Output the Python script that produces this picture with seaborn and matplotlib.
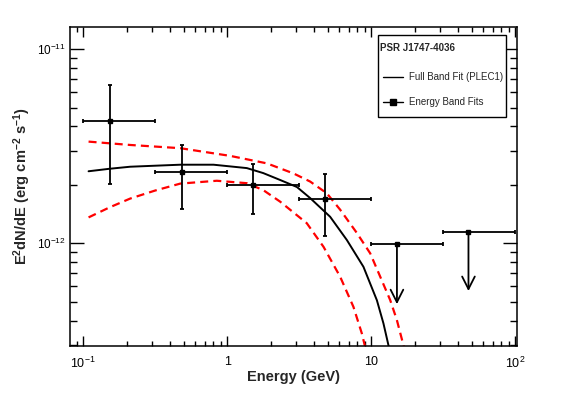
import numpy as np
import pandas as pd
import matplotlib
matplotlib.use("Agg")
import matplotlib.pyplot as plt
from matplotlib.lines import Line2D
from matplotlib.patches import Rectangle
from matplotlib.ticker import FixedLocator, FixedFormatter, NullFormatter
import seaborn as sns

# ---------------- data ----------------
# Full band PLEC1 fit (solid) and its 1-sigma envelope (red dashed)
fit_E = [0.109, 0.152, 0.212, 0.316, 0.472, 0.804, 1.37, 1.78, 2.33, 3.05, 3.77, 5.19, 6.78,
         8.84, 10.96, 12.17, 13.18, 14.0]
fit_F = [2.35e-12, 2.42e-12, 2.48e-12, 2.51e-12, 2.54e-12, 2.54e-12, 2.44e-12, 2.30e-12,
         2.12e-12, 1.95e-12, 1.71e-12, 1.37e-12, 1.04e-12, 7.57e-13, 5.09e-13, 3.87e-13,
         2.99e-13, 2.59e-13]

up_E = [0.109, 0.212, 0.472, 1.05, 1.89, 2.89, 3.77, 4.92, 6.09, 7.96, 9.85, 11.56, 13.56,
        15.08, 16.75, 17.5]
up_F = [3.34e-12, 3.21e-12, 3.09e-12, 2.82e-12, 2.58e-12, 2.29e-12, 2.08e-12, 1.81e-12,
        1.49e-12, 1.13e-12, 8.88e-13, 6.73e-13, 5.10e-13, 4.03e-13, 2.99e-13, 2.65e-13]

lo_E = [0.109, 0.152, 0.212, 0.316, 0.472, 0.847, 1.37, 1.78, 2.33, 3.57, 4.67, 6.09, 7.53,
        8.61, 9.08, 9.38]
lo_F = [1.36e-12, 1.53e-12, 1.70e-12, 1.87e-12, 2.03e-12, 2.10e-12, 2.04e-12, 1.88e-12,
        1.64e-12, 1.27e-12, 9.59e-13, 6.73e-13, 4.71e-13, 3.44e-13, 2.93e-13, 2.65e-13]

# Energy band fits (detections)
band_E = [0.153, 0.484, 1.51, 4.8]
band_F = [4.28e-12, 2.34e-12, 1.99e-12, 1.69e-12]
band_E_lo = [0.1, 0.316, 1.0, 3.16]
band_E_hi = [0.316, 1.0, 3.16, 10.0]
band_F_lo = [2.03e-12, 1.51e-12, 1.42e-12, 1.09e-12]
band_F_hi = [6.54e-12, 3.19e-12, 2.55e-12, 2.28e-12]

# Energy band upper limits
ul_E = [15.1, 47.4]
ul_F = [9.88e-13, 1.14e-12]
ul_E_lo = [10.0, 31.6]
ul_E_hi = [31.6, 100.0]
ul_F_arrow = [4.86e-13, 5.68e-13]

x_ticks = [0.1, 1, 10, 100]
x_tick_labels = ["10$^{-1}$", "1", "10", "10$^{2}$"]
y_ticks = [1e-12, 1e-11]
y_tick_labels = ["10$^{-12}$", "10$^{-11}$"]

legend_title = "PSR J1747-4036"
label_fit = "Full Band Fit (PLEC1)"
label_band = "Energy Band Fits"

# ---------------- style ----------------
sns.set_theme(style="ticks")
plt.rcParams["font.family"] = ["Liberation Sans", "DejaVu Sans"]
plt.rcParams["mathtext.default"] = "regular"

W, H = 581, 394
fig = plt.figure(figsize=(W / 100, H / 100), dpi=100)
ax = fig.add_axes([70 / W, 1 - 346 / H, (517 - 70) / W, (346 - 27) / H])
ax.set_xscale("log")
ax.set_yscale("log")

fit_df = pd.DataFrame({"E": fit_E, "F": fit_F})
up_df = pd.DataFrame({"E": up_E, "F": up_F})
lo_df = pd.DataFrame({"E": lo_E, "F": lo_F})

sns.lineplot(data=up_df, x="E", y="F", ax=ax, color="#ff0000", lw=1.6,
             sort=False, estimator=None)
sns.lineplot(data=lo_df, x="E", y="F", ax=ax, color="#ff0000", lw=1.6,
             sort=False, estimator=None)
for ln in ax.lines:
    ln.set_dashes((3.6, 2.3))
sns.lineplot(data=fit_df, x="E", y="F", ax=ax, color="black", lw=1.4,
             sort=False, estimator=None)

# detections
bE = np.array(band_E); bF = np.array(band_F)
xerr = [bE - np.array(band_E_lo), np.array(band_E_hi) - bE]
yerr = [bF - np.array(band_F_lo), np.array(band_F_hi) - bF]
ax.errorbar(bE, bF, xerr=xerr, yerr=yerr, fmt="s", ms=3.2, color="black",
            ecolor="black", elinewidth=1.3, capsize=1.6, capthick=1.3, zorder=5)

# upper limits
uE = np.array(ul_E); uF = np.array(ul_F)
uxerr = [uE - np.array(ul_E_lo), np.array(ul_E_hi) - uE]
ax.errorbar(uE, uF, xerr=uxerr, fmt="s", ms=3.2, color="black", ecolor="black",
            elinewidth=1.3, capsize=1.6, capthick=1.3, zorder=5)
for e, f, fa in zip(ul_E, ul_F, ul_F_arrow):
    ax.annotate("", xy=(e, fa), xytext=(e, f),
                arrowprops=dict(arrowstyle="->,head_length=0.75,head_width=0.38",
                                color="black", lw=1.3, shrinkA=0, shrinkB=0))

ax.set_xlim(0.081, 103)
ax.set_ylim(2.96e-13, 1.30e-11)

ax.xaxis.set_major_locator(FixedLocator(x_ticks))
ax.xaxis.set_major_formatter(FixedFormatter(x_tick_labels))
ax.yaxis.set_major_locator(FixedLocator(y_ticks))
ax.yaxis.set_major_formatter(FixedFormatter(y_tick_labels))
xmin = [m * 10.0 ** d for d in range(-2, 2) for m in range(2, 10)]
ymin = [m * 10.0 ** d for d in range(-13, -11) for m in range(2, 10)]
ax.xaxis.set_minor_locator(FixedLocator(xmin))
ax.yaxis.set_minor_locator(FixedLocator(ymin))
ax.xaxis.set_minor_formatter(NullFormatter())
ax.yaxis.set_minor_formatter(NullFormatter())

ax.tick_params(which="both", direction="in", top=True, right=True, width=1.0,
               colors="black")
ax.tick_params(axis="x", which="major", length=7, pad=7, labelsize=9)
ax.tick_params(axis="x", which="minor", length=3.5)
ax.tick_params(axis="y", which="major", length=10, pad=3, labelsize=8.5)
ax.tick_params(axis="y", which="minor", length=5)
for s in ax.spines.values():
    s.set_linewidth(1.1)
    s.set_color("black")

ax.set_xlabel("Energy (GeV)", fontsize=10.5, fontweight="bold")
ax.set_ylabel("E$^{2}$dN/dE (erg cm$^{-2}$ s$^{-1}$)", fontsize=10.5,
              fontweight="bold")
ax.xaxis.set_label_coords(0.5, -0.075)
ax.yaxis.set_label_coords(-0.082, 0.5)
ax.grid(False)

# ---------------- legend box (drawn by hand to match layout) ----------------
def fx(px):
    return px / W

def fy(py):
    return 1 - py / H

fig.add_artist(Rectangle((fx(377.5), fy(117)), fx(506) - fx(377.5), fy(35) - fy(117),
                         transform=fig.transFigure, facecolor="white",
                         edgecolor="black", lw=1.0, zorder=10))
fig.text(fx(380.5), fy(48), legend_title, fontsize=7, fontweight="bold",
         ha="left", va="center", zorder=11)
fig.add_artist(Line2D([fx(382.5), fx(402.5)], [fy(76.7), fy(76.7)],
                      transform=fig.transFigure, color="black", lw=1.0, zorder=11))
fig.text(fx(409), fy(76.7), label_fit, fontsize=7, ha="left", va="center", zorder=11)
fig.add_artist(Line2D([fx(382.5), fx(402.5)], [fy(101.7), fy(101.7)],
                      transform=fig.transFigure, color="black", lw=1.0, zorder=11))
fig.add_artist(Line2D([fx(392.5)], [fy(101.7)], transform=fig.transFigure,
                      color="black", marker="s", ms=4, lw=0, zorder=12))
fig.text(fx(409), fy(101.7), label_band, fontsize=7, ha="left", va="center", zorder=11)

fig.savefig("out.png", dpi=100)
